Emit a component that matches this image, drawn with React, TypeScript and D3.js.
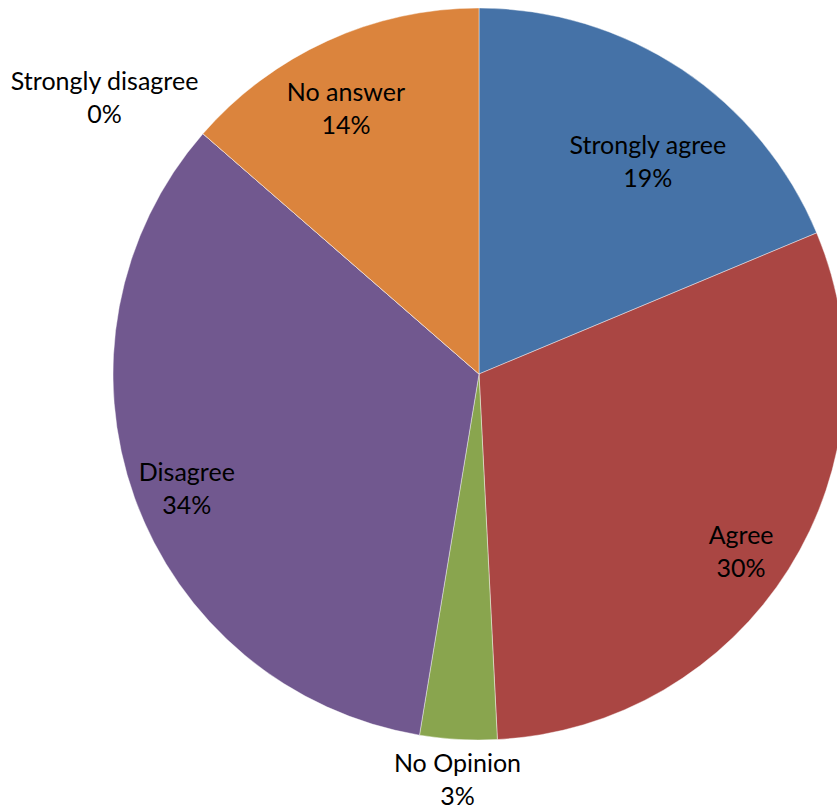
import React from "react";
import * as d3 from "d3";

const categories = ["Strongly agree", "Agree", "No Opinion", "Disagree", "Strongly disagree", "No answer"];
const values = [18.7, 30.5, 3.4, 33.8, 0, 13.6];
const percentLabels = ["19%", "30%", "3%", "34%", "0%", "14%"];
const colors = ["#4572A7", "#AA4643", "#89A54E", "#71588F", "#4198AF", "#DB843D"];

// label placement style: radius factor and angle offset (degrees) from slice mid-angle
const labelRadius = [0.74, 0.866, 1.11, 0.858, 1.27, 0.81];
const labelAngleOffset = [4.9, 2, -0.2, -1.7, -4.7, -2.2];

const W = 837;
const H = 811;
const cx = 479;
const cy = 374;
const R = 366;

export default function App() {
  const pie = d3.pie<number>().sort(null).value((d) => d)(values);
  const arc = d3.arc<d3.PieArcDatum<number>>().innerRadius(0).outerRadius(R);
  return (
    <svg
      width={W}
      height={H}
      style={{ position: "absolute", left: 0, top: 0, background: "#fff" }}
      fontFamily="Lato, 'Open Sans', sans-serif"
    >
      <g transform={`translate(${cx},${cy})`}>
        {pie.map((p, i) => (
          <path key={i} d={arc(p) || ""} fill={colors[i]} stroke="#ffffff" strokeWidth={0.6} strokeOpacity={0.7} />
        ))}
        {pie.map((p, i) => {
          const mid = (p.startAngle + p.endAngle) / 2 + (labelAngleOffset[i] * Math.PI) / 180;
          const r = R * labelRadius[i];
          const x = Math.sin(mid) * r;
          const y = -Math.cos(mid) * r + 2;
          return (
            <text key={"t" + i} x={x} y={y} textAnchor="middle" fontSize={25} fill="#000">
              <tspan x={x} y={y - 16.5} dominantBaseline="middle">{categories[i]}</tspan>
              <tspan x={x} y={y + 16.5} dominantBaseline="middle">{percentLabels[i]}</tspan>
            </text>
          );
        })}
      </g>
    </svg>
  );
}
